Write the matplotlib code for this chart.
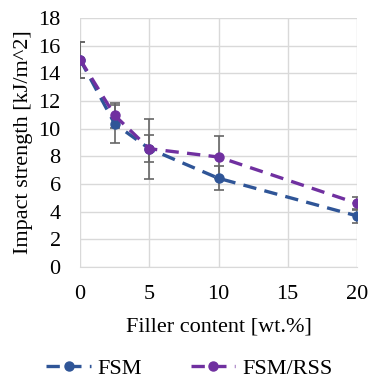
import matplotlib.pyplot as plt

plt.rcParams['font.family'] = 'Liberation Serif'
plt.rcParams['font.size'] = 16

filler = [0, 2.5, 5, 10, 20]
fsm = [15.0, 10.35, 8.55, 6.41, 3.69]
fsm_err = [1.3, 1.37, 0.96, 0.88, 0.53]
fsm_rss = [15.0, 10.96, 8.55, 7.95, 4.6]
fsm_rss_err = [1.3, 0.92, 2.17, 1.54, 0.46]

blue = '#2F5597'
purple = '#7030A0'

fig = plt.figure(figsize=(3.71, 3.78), dpi=100)
ax = fig.add_axes([0.216, 0.294, 0.746, 0.658])

for y, err, c, name in [(fsm, fsm_err, blue, 'FSM'), (fsm_rss, fsm_rss_err, purple, 'FSM/RSS')]:
    ax.errorbar(filler, y, yerr=err, fmt='none', ecolor='#666666', elinewidth=1.2,
                capsize=3.5, capthick=1.2, zorder=2)
    ax.plot(filler, y, color=c, lw=2.4, ls=(0, (4, 2.5)), marker='o', ms=6.5,
            label=name, zorder=3)

ax.set_xlim(0, 20)
ax.set_ylim(0, 18)
ax.set_xticks([0, 5, 10, 15, 20])
ax.set_yticks(range(0, 19, 2))
ax.grid(True, color='#D9D9D9', lw=1)
ax.set_axisbelow(True)
for s in ['top', 'right', 'left']:
    ax.spines[s].set_visible(False)
ax.spines['bottom'].set_color('#D9D9D9')
ax.tick_params(length=0, labelsize=16)
ax.tick_params(axis='x', pad=13)
ax.tick_params(axis='y', pad=14)
for lbl in ax.get_xticklabels() + ax.get_yticklabels():
    lbl.set_clip_on(False)

ax.set_xlabel('Filler content [wt.%]', fontsize=16, labelpad=10)
ax.set_ylabel('Impact strength [kJ/m^2]', fontsize=16, labelpad=4)

fig.legend(loc='lower center', bbox_to_anchor=(0.51, -0.055), ncol=2, frameon=False,
           fontsize=16, handlelength=2.0, columnspacing=2.2, handletextpad=0.3)

fig.savefig('out.png', dpi=100)
